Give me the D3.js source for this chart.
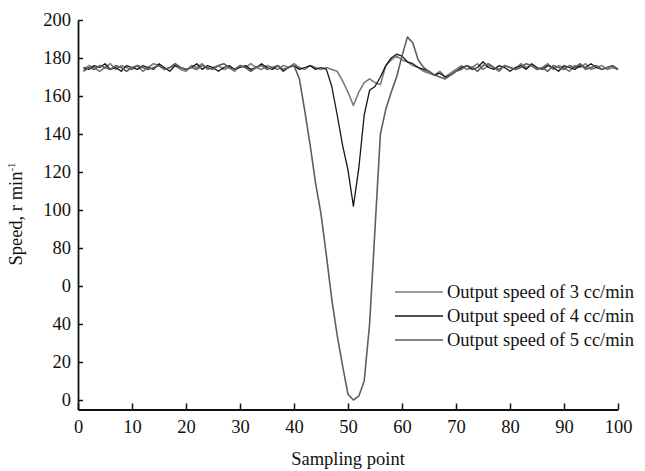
<!DOCTYPE html>
<html>
<head>
<meta charset="utf-8">
<script src="https://cdn.jsdelivr.net/npm/d3@7"></script>
<style>
  body { margin: 0; background: #fff; }
  svg text { font-family: "Liberation Serif", "Times New Roman", serif; fill: #111; }
  .linija { fill: none; stroke-linejoin: round; }
</style>
</head>
<body>
<div id="okvir"></div>
<script>
// podatci ocitani sa slike (uzorkovanje 1..100)
const uzorci = d3.range(1, 101);

const brzina3 = [
  174,176,175,173,175,177,174,176,175,174,
  176,173,175,177,176,174,175,176,174,173,
  176,175,177,174,175,176,174,175,173,176,
  175,177,175,174,176,175,174,176,175,177,
  175,174,176,175,174,
  175,174,173,168,162,155,162,167,169,167,166,
  176,179,181,179,178,176,175,173,
  172,171,173,170,172,174,
  176,174,175,177,174,176,175,173,176,175,
  174,177,175,176,174,175,177,174,176,175,
  173,176,175,177,174,175,176,174,175,174
];

const brzina4 = [
  175,174,176,175,177,174,175,173,176,175,
  174,176,175,174,177,175,173,176,175,174,
  175,177,174,176,175,173,175,176,174,175,
  176,174,175,177,175,174,176,173,175,176,
  174,175,176,174,175,
  174,165,150,134,121,102,122,150,163,165,170,
  176,180,182,181,178,177,175,174,
  173,171,172,170,171,173,
  175,176,174,175,178,175,174,176,175,173,
  175,176,174,177,175,174,176,175,173,176,
  175,174,176,175,177,175,174,175,176,174
];

const brzina5 = [
  173,175,174,176,175,174,176,175,173,175,
  176,175,174,175,176,174,175,177,175,174,
  175,174,176,175,174,176,177,175,174,176,
  175,173,175,176,174,175,176,174,175,
  176,169,152,134,114,98,76,53,34,18,3,0,2,10,40,90,140,
  153,162,170,181,191,188,179,175,
  173,171,170,169,171,173,
  174,176,175,173,176,177,175,174,176,175,
  174,175,177,176,174,175,173,176,175,174,
  176,175,177,174,175,176,174,175,176,174
];

const nazivi = ["Output speed of 3 cc/min", "Output speed of 4 cc/min", "Output speed of 5 cc/min"];
const boje = ["#7a7a7a", "#151515", "#5e5e5e"];

const xTicks = [0, 10, 20, 30, 40, 50, 60, 70, 80, 90, 100];
const yTicks = [0, 20, 40, 60, 80, 100, 120, 140, 160, 180, 200];
const yOznake = ["0", "20", "40", "0", "80", "100", "120", "140", "160", "180", "200"];

const crtajGraf = () => {
  const dimenzije = { width: 645, height: 471 };
  const velicinaFonta = 18.5;

  const okvir = d3.select("#okvir")
    .append("svg")
      .attr("width", dimenzije.width)
      .attr("height", dimenzije.height);

  const xMjerilo = d3.scaleLinear().domain([0, 100]).range([78, 618]);
  const yMjerilo = d3.scaleLinear().domain([-5, 200]).range([409.5, 20]);

  const serije = [brzina3, brzina4, brzina5];

  const generatorLinije = d3.line()
    .x((d, i) => xMjerilo(uzorci[i]))
    .y(d => yMjerilo(d));

  serije.forEach((s, k) => {
    okvir.append("path")
      .attr("class", "linija")
      .attr("d", generatorLinije(s))
      .attr("stroke", boje[k])
      .attr("stroke-width", k == 1 ? 1.3 : 1.6);
  });

  // osi
  const yOs = okvir.append("g")
    .attr("transform", `translate(${xMjerilo(0)},0)`)
    .call(d3.axisLeft(yMjerilo)
      .tickValues(yTicks)
      .tickFormat((d, i) => yOznake[i])
      .tickSizeInner(-5)
      .tickSizeOuter(0)
      .tickPadding(7));

  const xOs = okvir.append("g")
    .attr("transform", `translate(0,${yMjerilo(-5)})`)
    .call(d3.axisBottom(xMjerilo)
      .tickValues(xTicks)
      .tickSizeInner(-6)
      .tickSizeOuter(0)
      .tickPadding(10));

  [yOs, xOs].forEach(os => {
    os.select(".domain").attr("stroke", "#111").attr("stroke-width", 1.8);
    os.selectAll(".tick line").attr("stroke", "#111").attr("stroke-width", 1.5);
    os.selectAll(".tick text")
      .attr("font-family", "Liberation Serif")
      .attr("font-size", velicinaFonta)
      .attr("fill", "#111");
  });

  okvir.append("text")
    .attr("x", 348)
    .attr("y", 465)
    .attr("text-anchor", "middle")
    .attr("font-size", velicinaFonta)
    .text("Sampling point");

  const yOznaka = okvir.append("text")
    .attr("transform", "translate(22,214) rotate(-90)")
    .attr("text-anchor", "middle")
    .attr("font-size", velicinaFonta);
  yOznaka.append("tspan").text("Speed, r min");
  yOznaka.append("tspan").attr("font-size", 11).attr("dy", -7).text("-1");

  // legenda
  const legenda = okvir.append("g");
  nazivi.forEach((n, k) => {
    const y = 292 + k * 24;
    legenda.append("line")
      .attr("x1", 395).attr("x2", 443)
      .attr("y1", y).attr("y2", y)
      .attr("stroke", boje[k])
      .attr("stroke-width", 1.5);
    legenda.append("text")
      .attr("x", 447)
      .attr("y", y + 6)
      .attr("font-size", velicinaFonta)
      .text(n);
  });
};

crtajGraf();
</script>
</body>
</html>
